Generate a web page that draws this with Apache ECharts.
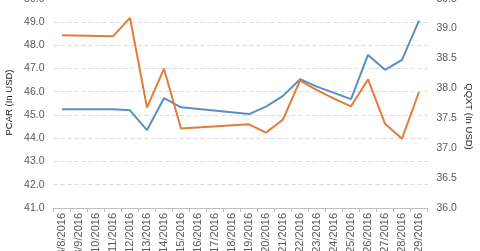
<!DOCTYPE html>
<html><head><meta charset="utf-8">
<script src="https://cdn.jsdelivr.net/npm/echarts@6/dist/echarts.min.js"></script>
<style>html,body{margin:0;padding:0;background:#fff}#c{width:480px;height:251px}</style>
</head><body><div id="c"></div>
<script>
const categories = ['8/8/2016','8/9/2016','8/10/2016','8/11/2016','8/12/2016','8/13/2016','8/14/2016','8/15/2016','8/16/2016','8/17/2016','8/18/2016','8/19/2016','8/20/2016','8/21/2016','8/22/2016','8/23/2016','8/24/2016','8/25/2016','8/26/2016','8/27/2016','8/28/2016','8/29/2016'];
const pcar = [45.25, null, null, 45.25, 45.2, 44.35, 45.72, 45.33, null, null, null, 45.04, 45.36, 45.82, 46.54, 46.22, 45.95, 45.68, 47.58, 46.94, 47.37, 49.06];
const qqxt = [38.89, null, null, 38.87, 39.18, 37.68, 38.33, 37.33, null, null, null, 37.40, 37.26, 37.48, 38.13, 37.97, 37.83, 37.70, 38.15, 37.41, 37.16, 37.94];
const leftTicks = {min: 41, max: 50, interval: 1};
const rightTicks = {min: 36, max: 39.5, interval: 0.5};
const leftName = 'PCAR (In USD)';
const rightName = 'QQXT (In USD)';

const chart = echarts.init(document.getElementById('c'), null, {renderer: 'canvas'});
const font = "'Liberation Sans', Arial, sans-serif";
chart.setOption({
  animation: false,
  grid: {left: 53.5, right: 52.5, top: -1.3, bottom: 43, outerBoundsMode: 'none', containLabel: false},
  graphic: [
    {type: 'text', x: 9.7, y: 102.5, rotation: Math.PI / 2,
     style: {text: leftName, align: 'center', verticalAlign: 'middle', fontSize: 9.5, fill: '#1a1a1a', fontFamily: font}},
    {type: 'text', x: 468.3, y: 116.5, rotation: -Math.PI / 2,
     style: {text: rightName, align: 'center', verticalAlign: 'middle', fontSize: 9.5, fill: '#1a1a1a', fontFamily: font}}
  ],
  xAxis: {
    type: 'category', data: categories, boundaryGap: true,
    axisLine: {lineStyle: {color: '#bfbfbf'}},
    axisTick: {show: true, length: 4, lineStyle: {color: '#bfbfbf'}},
    axisLabel: {rotate: 90, interval: 0, margin: 5, fontSize: 11, color: '#595959', fontFamily: font}
  },
  yAxis: [
    {type: 'value', min: leftTicks.min, max: leftTicks.max, interval: leftTicks.interval,
     axisLine: {show: false}, axisTick: {show: false},
     axisLabel: {formatter: v => v.toFixed(1), fontSize: 10.5, color: '#595959', fontFamily: font, margin: 9},
     splitLine: {lineStyle: {color: '#d9d9d9', type: [4, 3]}}},
    {type: 'value', min: rightTicks.min, max: rightTicks.max, interval: rightTicks.interval,
     axisLine: {show: false}, axisTick: {show: false},
     axisLabel: {formatter: v => v.toFixed(1), fontSize: 10.5, color: '#595959', fontFamily: font, margin: 9},
     splitLine: {show: false}}
  ],
  series: [
    {name: 'PCAR', type: 'line', yAxisIndex: 0, data: pcar, connectNulls: true, symbol: 'none',
     lineStyle: {color: '#5b8fc4', width: 2}, itemStyle: {color: '#5b8fc4'}},
    {name: 'QQXT', type: 'line', yAxisIndex: 1, data: qqxt, connectNulls: true, symbol: 'none',
     lineStyle: {color: '#e07d3a', width: 2}, itemStyle: {color: '#e07d3a'}}
  ]
});
</script></body></html>
